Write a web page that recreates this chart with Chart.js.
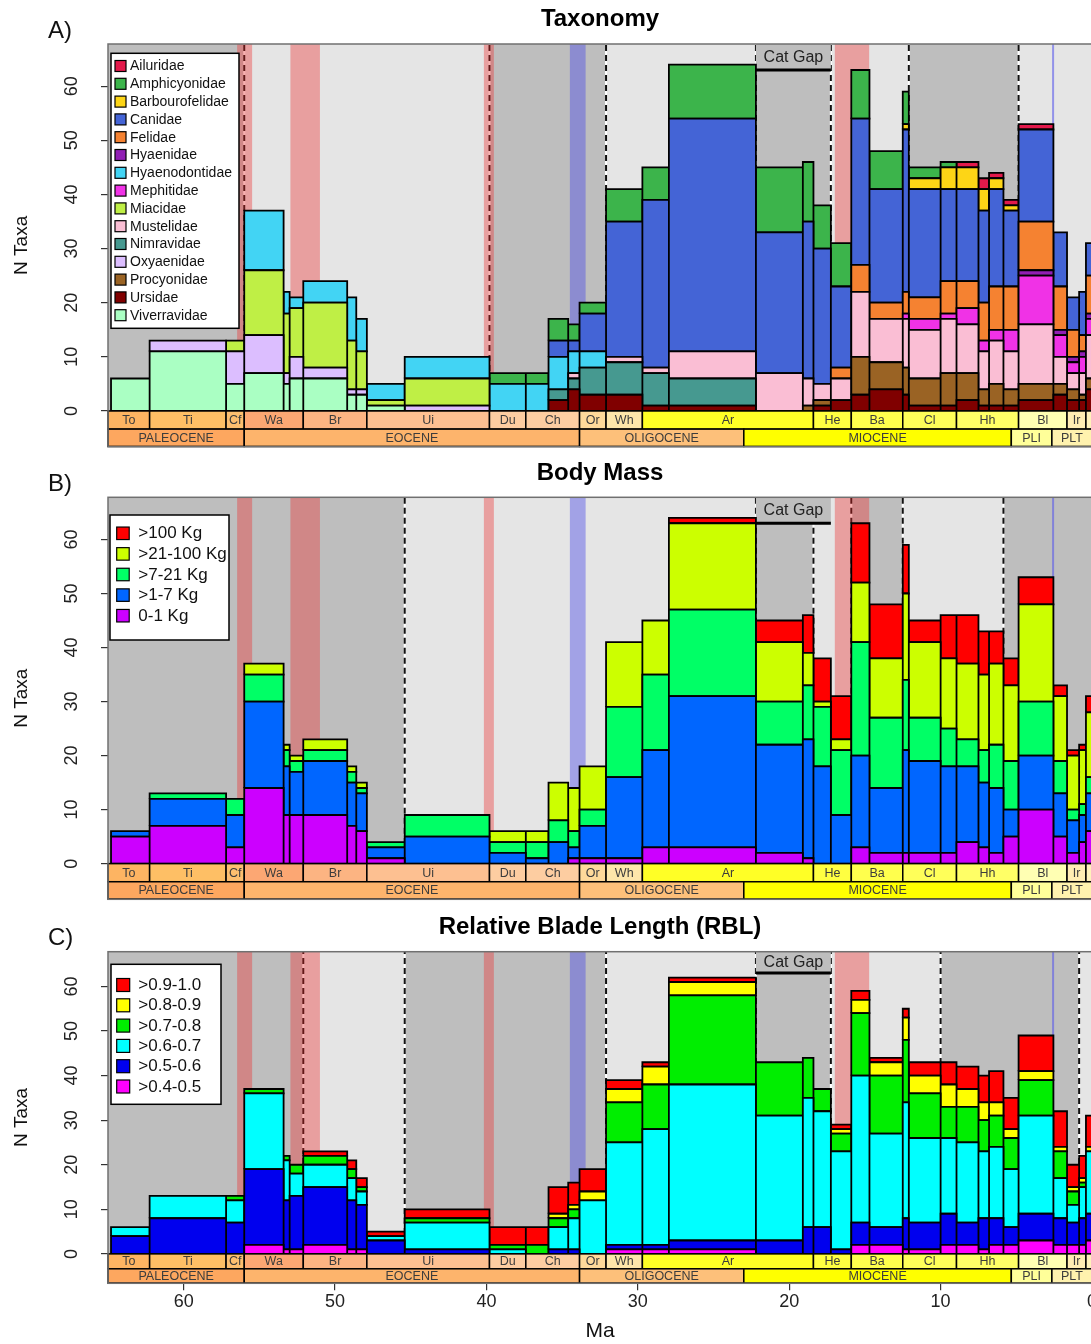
<!DOCTYPE html>
<html>
<head>
<meta charset="utf-8">
<title>Carnivoran diversity through the Cenozoic</title>
<script src="https://cdn.jsdelivr.net/npm/chart.js@4.4.1/dist/chart.umd.min.js"></script>
<style>
  html, body { margin: 0; padding: 0; background: #fff; overflow: hidden; }
  canvas { position: absolute; left: 0; }
</style>
</head>
<body>
<canvas id="taxa" width="1092" height="450" style="top:0px"></canvas>
<canvas id="mass" width="1092" height="452" style="top:450px"></canvas>
<canvas id="rbl" width="1092" height="442" style="top:902px"></canvas>
<script>
const FAMILY = "'Liberation Sans', Arial, Helvetica, sans-serif";
Chart.defaults.font.family = FAMILY;
Chart.defaults.color = '#222';

// time bins in Ma, old -> young; bar i spans binEdges[i]..binEdges[i+1]
const binEdges = [64.8, 62.25, 57.2, 56.0, 53.4, 53.0, 52.1, 49.2, 48.6, 47.9,
  45.4, 39.8, 37.4, 35.9, 34.6, 33.85, 32.1, 29.7, 27.95, 22.2,
  19.1, 18.4, 17.25, 15.9, 14.7, 12.5, 12.1, 10.0, 8.95, 7.5,
  6.8, 5.85, 4.85, 2.55, 1.65, 0.85, 0.4, 0];

// tick labels
const xTickValues = [60, 50, 40, 30, 20, 10, 0];
const yTickValues = [0, 10, 20, 30, 40, 50, 60];

// A) taxonomy, legend order (stacked from the last one up)
const familyNames = ['Ailuridae', 'Amphicyonidae', 'Barbourofelidae', 'Canidae', 'Felidae', 'Hyaenidae',
  'Hyaenodontidae', 'Mephitidae', 'Miacidae', 'Mustelidae', 'Nimravidae', 'Oxyaenidae',
  'Procyonidae', 'Ursidae', 'Viverravidae'];
const familyColors = ['#e3194b', '#3cb44b', '#fdd516', '#4464d6', '#f58231', '#911eb4',
  '#42d4f4', '#f032e6', '#bfef45', '#fabed4', '#469990', '#dcbeff',
  '#9a6324', '#800000', '#aaffc3'];
const ailuridae       = [0,0,0,0,0,0,0,0,0,0, 0,0,0,0,0,0,0,0,0,0, 0,0,0,0,0,0,0,0,1,2, 1,1,1,0,0,0,0];
const amphicyonidae   = [0,0,0,0,0,0,0,0,0,0, 0,2,2,4,3,2,6,6,10,12, 11,8,8,9,7,6,2,1,0,0, 0,0,0,0,0,0,0];
const barbourofelidae = [0,0,0,0,0,0,0,0,0,0, 0,0,0,0,0,0,0,0,0,0, 0,0,0,0,0,1,2,4,4,4, 2,1,0,0,0,0,0];
const canidae         = [0,0,0,0,0,0,0,0,0,0, 0,0,0,3,2,7,25,31,43,26, 29,25,15,27,21,30,20,17,17,17, 18,14,17,10,6,8,6];
const felidae         = [0,0,0,0,0,0,0,0,0,0, 0,0,0,0,0,0,0,0,0,0, 0,0,2,5,3,4,4,6,5,7, 8,8,9,8,5,3,7];
const hyaenidae       = [0,0,0,0,0,0,0,0,0,0, 0,0,0,0,0,0,0,0,0,0, 0,0,0,0,0,0,0,0,0,0, 0,0,1,1,1,1,1];
const hyaenodontidae  = [0,0,0,11,4,2,4,8,6,3, 4,5,5,6,4,3,0,0,0,0, 0,0,0,0,0,0,0,0,0,0, 0,0,0,0,0,0,0];
const mephitidae      = [0,0,0,0,0,0,0,0,0,0, 0,0,0,0,0,0,0,0,0,0, 0,0,0,0,0,1,2,1,3,2, 2,4,9,4,2,3,3];
const miacidae        = [0,0,2,12,11,9,12,9,7,1, 5,0,0,0,0,0,0,0,0,0, 0,0,0,0,0,0,0,0,0,0, 0,0,0,0,0,0,0];
const mustelidae      = [0,0,0,0,0,0,0,0,0,0, 0,0,0,0,1,0,1,1,5,7, 5,3,4,12,8,9,9,10,9,7, 8,7,11,5,3,4,8];
const nimravidae      = [0,0,0,0,0,0,0,0,0,0, 0,0,0,2,2,5,6,6,5,0, 0,0,0,0,0,0,0,0,0,0, 0,0,0,0,0,0,0];
const oxyaenidae      = [0,2,6,7,2,4,2,1,1,0, 1,0,0,0,0,0,0,0,0,0, 0,0,0,0,0,0,0,0,0,0, 0,0,0,0,0,0,0];
const procyonidae     = [0,0,0,0,0,0,0,0,0,0, 0,0,0,0,0,0,0,0,0,0, 1,1,0,7,5,5,5,6,5,3, 4,3,3,2,2,1,2];
const ursidae         = [0,0,0,0,0,0,0,0,0,0, 0,0,0,2,4,3,3,1,1,0, 0,1,2,3,4,3,1,1,2,1, 1,1,2,3,2,2,4];
const viverravidae    = [6,11,5,7,5,6,6,3,3,1, 0,0,0,0,0,0,0,0,0,0, 0,0,0,0,0,0,0,0,0,0, 0,0,0,0,0,0,0];

// B) body mass classes, legend order
const massNames = ['>100 Kg', '>21-100 Kg', '>7-21 Kg', '>1-7 Kg', '0-1 Kg'];
const massColors = ['#ff0000', '#ccff00', '#00ff66', '#0066ff', '#cc00ff'];
const massOver100  = [0,0,0,0,0,0,0,0,0,0, 0,0,0,0,0,0,0,0,1,4, 7,8,8,11,10,9,4,8,9,8, 6,5,5,2,1,1,3];
const mass21to100  = [0,0,0,2,1,1,2,1,1,0, 0,2,2,7,8,8,12,10,16,11, 6,1,2,11,11,16,14,13,14,14, 15,14,18,12,10,10,12];
const mass7to21    = [0,1,3,5,3,2,2,2,1,1, 4,2,3,4,3,3,13,14,16,8, 10,11,12,21,13,13,8,7,5,6, 8,9,10,6,2,2,3];
const mass1to7     = [1,5,6,16,9,8,10,8,7,2, 5,2,1,4,2,6,15,18,28,20, 22,18,9,17,12,19,17,16,14,12, 12,5,10,8,6,5,7];
const mass0to1     = [5,7,3,14,9,9,9,7,6,1, 0,0,0,0,1,1,1,3,3,2, 1,0,0,3,2,2,2,2,4,3, 2,5,10,5,2,4,6];

// C) relative blade length classes, legend order
const rblNames = ['>0.9-1.0', '>0.8-0.9', '>0.7-0.8', '>0.6-0.7', '>0.5-0.6', '>0.4-0.5'];
const rblColors = ['#ff0000', '#ffff00', '#00ee00', '#00ffff', '#0000ee', '#ff00ff'];
const rbl9to10 = [0,0,0,0,0,0,1,2,2,1, 2,4,4,6,5,5,2,1,1,0, 0,0,1,2,1,2,3,5,5,6, 7,7,8,8,5,5,7];
const rbl8to9  = [0,0,0,0,0,0,0,0,0,0, 0,0,0,1,1,2,3,4,3,0, 0,0,1,3,3,5,4,5,4,4, 3,2,2,1,1,1,1];
const rbl7to8  = [0,0,1,1,1,2,2,2,1,0, 1,1,2,2,2,0,9,10,20,12, 9,5,4,14,13,14,10,7,8,7, 7,7,8,6,3,1,0];
const rbl6to7  = [2,5,5,17,9,5,5,5,3,1, 6,1,0,5,7,12,23,26,35,28, 29,26,22,33,21,26,19,17,18,15, 16,13,22,9,4,7,14];
const rbl5to6  = [4,8,7,17,11,12,13,11,10,3, 1,0,0,1,1,0,1,1,2,3, 6,6,1,5,4,7,6,7,5,7, 6,4,6,6,5,6,6];
const rbl4to5  = [0,0,0,2,1,1,2,1,1,0, 0,0,0,0,0,0,1,1,1,0, 0,0,0,2,2,1,1,2,2,1, 2,2,3,2,2,2,3];

// time scale strips
const stageNames  = ['To', 'Ti', 'Cf', 'Wa', 'Br', 'Ui', 'Du', 'Ch', 'Or', 'Wh', 'Ar', 'He', 'Ba', 'Cl', 'Hh', 'Bl', 'Ir', 'Ra'];
const stageEdges  = [65, 62.25, 57.2, 56.0, 52.1, 47.9, 39.8, 37.4, 33.85, 32.1, 29.7, 18.4, 15.9, 12.5, 8.95, 4.85, 1.65, 0.4, 0];
const stageColors = ['#fdb462', '#febf65', '#fdbf6f', '#fca773', '#fcb482', '#fdc091', '#fdcda1', '#fdcda1', '#fed99a',
  '#fee6aa', '#ffff26', '#ffff41', '#ffff4d', '#ffff59', '#ffff66', '#ffffb3', '#ffedb3', '#fff2ba'];
const epochNames  = ['PALEOCENE', 'EOCENE', 'OLIGOCENE', 'MIOCENE', 'PLI', 'PLT'];
const epochEdges  = [65, 56.0, 33.85, 23.0, 5.33, 2.65, 0];
const epochColors = ['#fda75f', '#fdb46c', '#fdc07a', '#ffff00', '#ffff99', '#fff2ae'];

// climatic events and the cat gap
const redBands = [[56.47, 55.48], [52.95, 51.0], [40.17, 39.51], [16.99, 14.72]];
const blueBands = [[34.49, 33.45]];
const blueLine = 2.57;
const catGap = [22.2, 17.25];

const LIGHT = '#e5e5e5', DARK = '#bebebe';

const panels = {
  taxa: {
    title: 'Taxonomy', letter: 'A)', names: familyNames, colors: familyColors,
    values: [ailuridae, amphicyonidae, barbourofelidae, canidae, felidae, hyaenidae, hyaenodontidae,
      mephitidae, miacidae, mustelidae, nimravidae, oxyaenidae, procyonidae, ursidae, viverravidae],
    dark: [[65, 56.0], [39.8, 32.1], [22.2, 17.25], [12.1, 4.85]],
    dashed: [56.0, 39.8, 32.1, 22.2, 17.25, 12.1, 4.85],
    titlePad: {top: 4.6, bottom: 10.6}, padBottom: 3.3, showX: false,
    legend: {x: 3, y: 9.3, w: 128, h: 275, first: 12.7, gap: 17.8, sw: 11, swX: 4, textX: 19, size: 14}
  },
  mass: {
    title: 'Body Mass', letter: 'B)', names: massNames, colors: massColors,
    values: [massOver100, mass21to100, mass7to21, mass1to7, mass0to1],
    dark: [[65, 45.4], [22.2, 18.4], [15.9, 12.5], [5.85, 0]],
    dashed: [45.4, 22.2, 18.4, 15.9, 12.5, 5.85],
    titlePad: {top: 8.6, bottom: 9.9}, padBottom: 2.7, showX: false,
    legend: {x: 2, y: 17.7, w: 119, h: 125, first: 18.3, gap: 20.6, sw: 12.5, swX: 6.7, textX: 28.3, size: 17}
  },
  rbl: {
    title: 'Relative Blade Length (RBL)', letter: 'C)', names: rblNames, colors: rblColors,
    values: [rbl9to10, rbl8to9, rbl7to8, rbl6to7, rbl5to6, rbl4to5],
    dark: [[65, 52.1], [45.4, 32.1], [22.2, 17.25], [10.0, 0.85]],
    dashed: [52.1, 45.4, 32.1, 22.2, 17.25, 10.0, 0.85],
    titlePad: {top: 10.6, bottom: 10.3}, padBottom: 0, showX: true,
    legend: {x: 3, y: 12.6, w: 110, h: 140, first: 20.7, gap: 20.3, sw: 13, swX: 5.7, textX: 27.3, size: 17}
  }
};

// one line dataset per class; each bar segment is a closed rectangle filled with 'shape'
function stackRects(values, colors) {
  const top = new Array(binEdges.length - 1).fill(0);
  const sets = [];
  for (let s = values.length - 1; s >= 0; s--) {
    const pts = [];
    values[s].forEach((v, b) => {
      if (!v) return;
      const x0 = binEdges[b], x1 = binEdges[b + 1], lo = top[b], hi = lo + v;
      pts.push({x: x0, y: lo}, {x: x0, y: hi}, {x: x1, y: hi}, {x: x1, y: lo}, {x: x0, y: lo}, {x: x1, y: null});
      top[b] = hi;
    });
    sets.push({
      data: pts, backgroundColor: colors[s], borderColor: '#000', borderWidth: 1.8,
      fill: 'shape', spanGaps: false, pointRadius: 0, tension: 0
    });
  }
  return sets;
}

function vline(ctx, px, y0, y1) {
  ctx.beginPath();
  ctx.moveTo(px, y0);
  ctx.lineTo(px, y1);
  ctx.stroke();
}

const decor = {
  id: 'decor',
  beforeDatasetsDraw(chart) {
    const cfg = panels[chart.canvas.id];
    const {ctx, chartArea: a} = chart;
    const x = chart.scales.x, y = chart.scales.y;
    const y0 = y.getPixelForValue(0);
    const span = (m0, m1) => {
      const p0 = x.getPixelForValue(m0), p1 = x.getPixelForValue(m1);
      return [Math.min(p0, p1), Math.abs(p1 - p0)];
    };
    ctx.save();
    ctx.fillStyle = LIGHT;
    ctx.fillRect(a.left, a.top, a.width, y0 - a.top);
    ctx.fillStyle = DARK;
    cfg.dark.forEach(([m0, m1]) => {
      const [px, w] = span(m0, m1);
      ctx.fillRect(px, a.top, w, y0 - a.top);
    });

    // regime shifts
    ctx.lineWidth = 2;
    cfg.dashed.forEach(m => {
      const px = x.getPixelForValue(m);
      ctx.setLineDash([]);
      ctx.strokeStyle = '#fff';
      vline(ctx, px, y0, a.top);
      ctx.setLineDash([6, 4]);
      ctx.strokeStyle = '#111';
      vline(ctx, px, y0, a.top);
    });
    ctx.setLineDash([]);

    ctx.fillStyle = 'rgba(240, 40, 40, 0.37)';
    redBands.forEach(([m0, m1]) => {
      const [px, w] = span(m0, m1);
      ctx.fillRect(px, a.top, w, y0 - a.top);
    });
    ctx.fillStyle = 'rgba(80, 80, 230, 0.45)';
    blueBands.forEach(([m0, m1]) => {
      const [px, w] = span(m0, m1);
      ctx.fillRect(px, a.top, w, y0 - a.top);
    });
    ctx.strokeStyle = 'rgba(90, 90, 235, 0.6)';
    ctx.lineWidth = 2;
    vline(ctx, x.getPixelForValue(blueLine), y0, a.top);

    // cat gap label
    const [gx, gw] = span(catGap[0], catGap[1]);
    const gy = y.getPixelForValue(63);
    ctx.fillStyle = DARK;
    ctx.fillRect(gx, a.top, gw, gy - a.top);
    ctx.strokeStyle = '#000';
    ctx.lineWidth = 3;
    ctx.beginPath();
    ctx.moveTo(gx, gy);
    ctx.lineTo(gx + gw, gy);
    ctx.stroke();
    ctx.fillStyle = '#222';
    ctx.font = '16px ' + FAMILY;
    ctx.textAlign = 'center';
    ctx.textBaseline = 'middle';
    ctx.fillText('Cat Gap', gx + gw / 2, y.getPixelForValue(65.3));
    ctx.restore();
  },

  afterDatasetsDraw(chart) {
    const cfg = panels[chart.canvas.id];
    const {ctx, chartArea: a} = chart;
    const x = chart.scales.x, y = chart.scales.y;
    ctx.save();

    // stage / epoch strips under the bars
    const strip = (names, edges, colors, v0, v1) => {
      const t = y.getPixelForValue(v0), b = y.getPixelForValue(v1);
      ctx.font = '12.5px ' + FAMILY;
      ctx.textAlign = 'center';
      ctx.textBaseline = 'middle';
      names.forEach((n, i) => {
        const p0 = x.getPixelForValue(edges[i]), p1 = x.getPixelForValue(edges[i + 1]);
        ctx.fillStyle = colors[i];
        ctx.fillRect(p0, t, p1 - p0, b - t);
        ctx.strokeStyle = '#000';
        ctx.lineWidth = 1.5;
        ctx.strokeRect(p0, t, p1 - p0, b - t);
        if (ctx.measureText(n).width < p1 - p0 - 2) {
          ctx.fillStyle = '#3c3c3c';
          ctx.fillText(n, (p0 + p1) / 2, (t + b) / 2 + 0.5);
        }
      });
    };
    strip(stageNames, stageEdges, stageColors, 0, -3.35);
    strip(epochNames, epochEdges, epochColors, -3.35, -6.55);

    // legend box
    const L = cfg.legend;
    const lx = a.left + L.x, ly = a.top + L.y;
    ctx.fillStyle = '#fff';
    ctx.fillRect(lx, ly, L.w, L.h);
    ctx.strokeStyle = '#000';
    ctx.lineWidth = 1.5;
    ctx.strokeRect(lx, ly, L.w, L.h);
    ctx.font = L.size + 'px ' + FAMILY;
    ctx.textAlign = 'left';
    ctx.textBaseline = 'middle';
    cfg.names.forEach((n, i) => {
      const cy = ly + L.first + i * L.gap;
      ctx.fillStyle = cfg.colors[i];
      ctx.fillRect(lx + L.swX, cy - L.sw / 2, L.sw, L.sw);
      ctx.lineWidth = 1.2;
      ctx.strokeRect(lx + L.swX, cy - L.sw / 2, L.sw, L.sw);
      ctx.fillStyle = '#111';
      ctx.fillText(n, lx + L.textX, cy + 0.5);
    });

    // plot frame
    ctx.strokeStyle = '#707070';
    ctx.lineWidth = 1.5;
    ctx.strokeRect(a.left, a.top, a.width, a.height);
    ctx.restore();
  },

  afterDraw(chart) {
    const cfg = panels[chart.canvas.id];
    const {ctx, chartArea: a} = chart;
    ctx.save();
    ctx.fillStyle = '#111';
    ctx.font = '24px ' + FAMILY;
    ctx.textAlign = 'left';
    ctx.textBaseline = 'middle';
    ctx.fillText(cfg.letter, a.left - 60, a.top - 13);
    ctx.restore();
  }
};

function makeChart(id) {
  const cfg = panels[id];
  return new Chart(document.getElementById(id), {
    type: 'line',
    data: {datasets: stackRects(cfg.values, cfg.colors)},
    options: {
      responsive: false,
      animation: false,
      events: [],
      layout: {padding: {top: 0, left: 0, right: 0, bottom: cfg.padBottom}},
      plugins: {
        legend: {display: false},
        tooltip: {enabled: false},
        title: {
          display: true, text: cfg.title, fullSize: false, color: '#000',
          font: {size: 24, weight: 'bold'}, padding: cfg.titlePad
        }
      },
      scales: {
        x: {
          type: 'linear', reverse: true, min: 0, max: 65, bounds: 'data',
          display: cfg.showX,
          border: {display: false},
          grid: {drawOnChartArea: false, tickLength: 7, color: '#333', lineWidth: 1.2},
          ticks: {autoSkip: false, maxRotation: 0, padding: 1, color: '#222', font: {size: 18}},
          title: {display: true, text: 'Ma', color: '#111', font: {size: 21}, padding: 0},
          afterBuildTicks(s) {
            s.ticks = xTickValues.map(v => ({value: v}));
          },
          afterFit(s) {
            s.paddingLeft = 0;
            s.paddingRight = 0;
            if (cfg.showX) s.height = 60.7;
          }
        },
        y: {
          type: 'linear', min: -6.6, max: 67.8, bounds: 'data',
          border: {display: false},
          grid: {drawOnChartArea: false, tickLength: 7, color: '#333', lineWidth: 1.2},
          ticks: {minRotation: 90, maxRotation: 90, crossAlign: 'center', padding: 19,
            color: '#222', font: {size: 18}},
          title: {display: true, text: 'N Taxa', color: '#111', font: {size: 19}, padding: {top: 10, bottom: 0}},
          afterBuildTicks(s) {
            s.ticks = yTickValues.map(v => ({value: v}));
          },
          afterFit(s) {
            s.width = 108;
            s.paddingTop = 0;
            s.paddingBottom = 0;
          }
        }
      }
    },
    plugins: [decor]
  });
}

makeChart('taxa');
makeChart('mass');
makeChart('rbl');
</script>
</body>
</html>
